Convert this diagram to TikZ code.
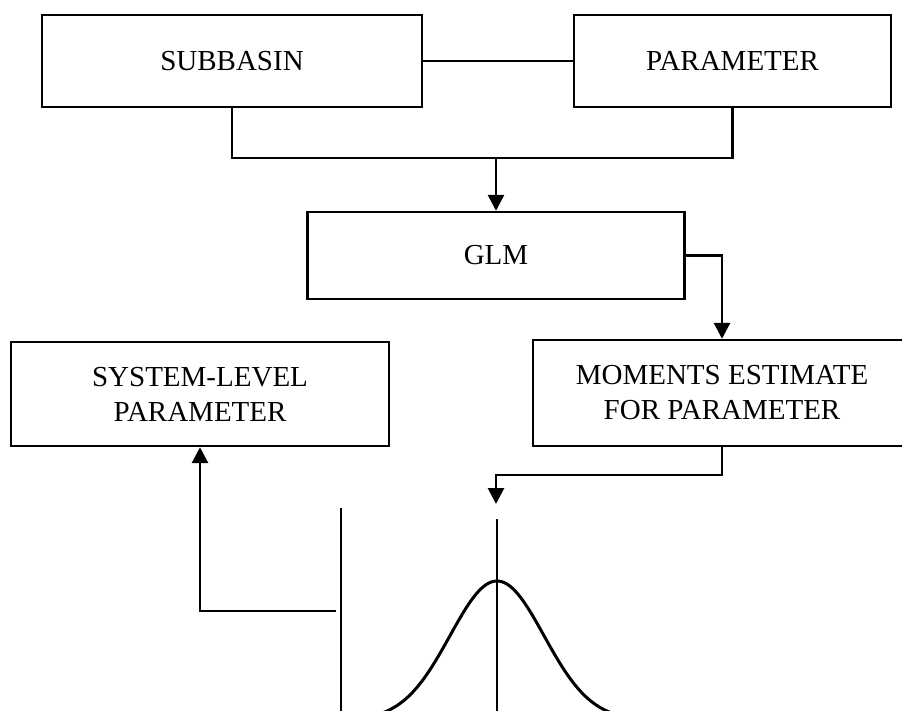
\documentclass[tikz,border=0pt]{standalone}
\usepackage{fontspec}
\setmainfont{Liberation Serif}
\usetikzlibrary{arrows.meta}
\tikzset{
  box/.style={draw, line width=2.4pt, inner sep=0pt, align=center,
              font=\fontsize{29}{35}\selectfont},
  link/.style={line width=2.8pt},
  arr/.style={link, -{Triangle[length=16pt,width=16pt]}},
  axisline/.style={line width=1.8pt},
  bell/.style={line width=3pt}
}
\begin{document}
\begin{tikzpicture}[x=1pt,y=-1pt]
  \clip (0,0) rectangle (902,710);
  \fill[white] (0,0) rectangle (902,710);

  % process boxes
  \node[box, minimum width=380pt, minimum height=92pt]  (sub) at (232,61)    {SUBBASIN};
  \node[box, minimum width=317pt, minimum height=92pt]  (par) at (732.5,61)  {PARAMETER};
  \node[box, minimum width=377pt, minimum height=87pt]  (glm) at (496,255.5) {GLM};
  \node[box, minimum width=378pt, minimum height=104pt] (sys) at (200,394)   {SYSTEM-LEVEL\\PARAMETER};
  \node[box, minimum width=378pt, minimum height=106pt] (mom) at (722,393)   {MOMENTS ESTIMATE\\FOR PARAMETER};

  % junction points
  \coordinate (jn) at (496,158);
  \coordinate (ka) at (496,475);
  \coordinate (kt) at (496,504);
  \coordinate (ax) at (336,611);

  % connectors
  \draw[link] (sub.east) -- (par.west);
  \draw[link] (sub.south) |- (jn) -| (par.south);
  \draw[arr] (jn) -- (glm.north);
  \draw[arr] (glm.east) -| (mom.north);
  \draw[arr] (mom.south) |- (ka) -- (kt);
  \draw[arr] (ax) -| (sys.south);

  % distribution sketch
  \draw[axisline] (341,508) -- (341,712);
  \draw[axisline] (497,519) -- (497,712);
  \draw[bell] plot[domain=370:624, samples=120, smooth]
    (\x, {720 - 139*exp(-((\x-497)^2)/(2*47*47))});
\end{tikzpicture}
\end{document}
